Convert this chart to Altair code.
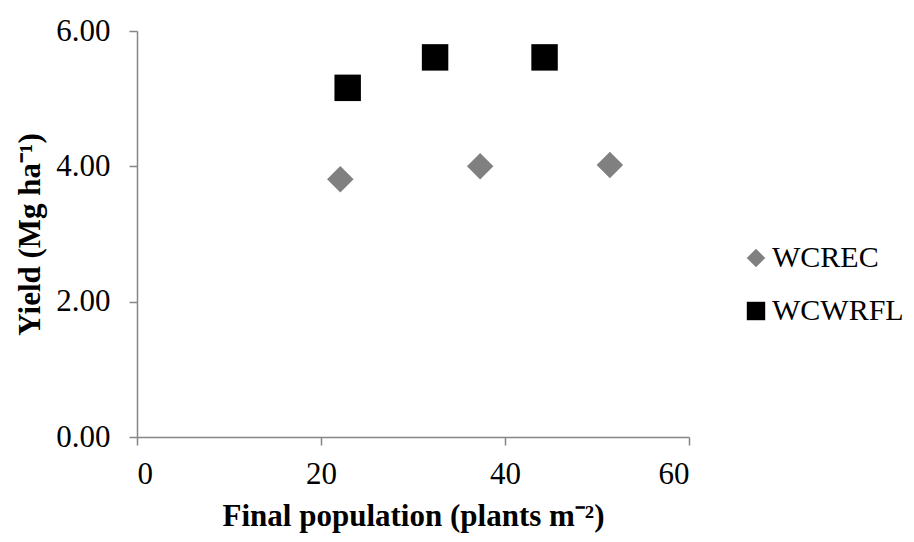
import altair as alt
import pandas as pd

series_names = ["WCREC", "WCWRFL"]
wcrec_x = [22.1, 37.3, 51.4]
wcrec_y = [3.81, 4.00, 4.02]
wcwrfl_x = [22.9, 32.4, 44.3]
wcwrfl_y = [5.16, 5.61, 5.61]

df = pd.DataFrame({
    "pop": wcrec_x + wcwrfl_x,
    "yield": wcrec_y + wcwrfl_y,
    "series": [series_names[0]] * len(wcrec_x) + [series_names[1]] * len(wcwrfl_x),
})

FONT = "Liberation Serif"
FS = 31

chart = alt.Chart(df).mark_point(filled=True, opacity=1, size=700).encode(
    x=alt.X("pop:Q", scale=alt.Scale(domain=[0, 60], nice=False),
            axis=alt.Axis(values=[0, 20, 40, 60], title="Final population (plants m⁻²)",
                          grid=False, tickSize=8, domainColor="#868686", tickColor="#868686",
                          domainWidth=1.5, tickWidth=1.5,
                          labelFont=FONT, labelFontSize=FS, labelColor="black",
                          titleFont=FONT, titleFontSize=FS, titleFontWeight="bold", titleColor="black",
                          labelPadding=14, titlePadding=12)),
    y=alt.Y("yield:Q", scale=alt.Scale(domain=[0, 6], nice=False),
            axis=alt.Axis(values=[0, 2, 4, 6], format=".2f", title="Yield (Mg ha⁻¹)",
                          grid=False, tickSize=8, domainColor="#868686", tickColor="#868686",
                          domainWidth=1.5, tickWidth=1.5,
                          labelFont=FONT, labelFontSize=FS, labelColor="black",
                          titleFont=FONT, titleFontSize=FS, titleFontWeight="bold", titleColor="black",
                          labelPadding=19, titlePadding=9)),
    color=alt.Color("series:N", scale=alt.Scale(domain=series_names, range=["#808080", "#000000"]),
                    legend=alt.Legend(title=None, orient="none", legendX=604, legendY=212,
                                      labelFont=FONT, labelFontSize=30, labelColor="black",
                                      symbolSize=340, rowPadding=23, labelOffset=1,
                                      symbolStrokeWidth=0, symbolOpacity=1)),
    shape=alt.Shape("series:N", scale=alt.Scale(domain=series_names, range=["diamond", "square"]),
                    legend=None),
).properties(
    width=552, height=406,
    autosize=alt.AutoSizeParams(type="none"),
    padding={"left": 129, "top": 23, "right": 217, "bottom": 103},
).configure_view(stroke=None)

chart.save("out.html", embed_options={"renderer": "svg", "actions": False})
